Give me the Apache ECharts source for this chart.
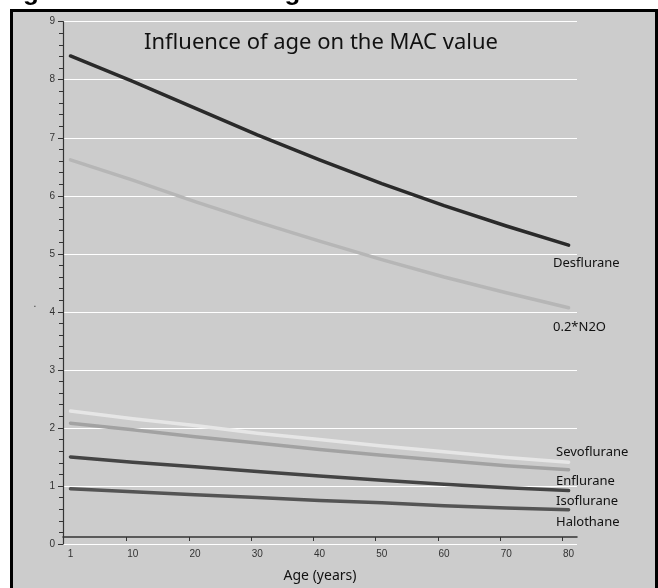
<!DOCTYPE html>
<html>
<head>
<meta charset="utf-8">
<script src="https://cdn.jsdelivr.net/npm/echarts@6/dist/echarts.min.js"></script>
<style>
  html, body { margin: 0; padding: 0; background: #ffffff; }
  #chart { width: 658px; height: 588px; }
</style>
</head>
<body>
<div id="chart"></div>
<script>
// Age tick labels along the x axis (one data point per labelled tick)
const ageLabels = ['1', '10', '20', '30', '40', '50', '60', '70', '80'];

// MAC values per agent at each labelled age
const desflurane  = [8.41, 7.97, 7.51, 7.05, 6.62, 6.21, 5.83, 5.48, 5.15];
const n2oScaled   = [6.62, 6.27, 5.90, 5.55, 5.22, 4.90, 4.60, 4.33, 4.07];
const sevoflurane = [2.29, 2.16, 2.04, 1.91, 1.80, 1.69, 1.59, 1.49, 1.41];
const enflurane   = [2.08, 1.97, 1.85, 1.74, 1.63, 1.53, 1.44, 1.35, 1.28];
const isoflurane  = [1.50, 1.41, 1.33, 1.25, 1.17, 1.10, 1.03, 0.97, 0.92];
const halothane   = [0.95, 0.90, 0.85, 0.80, 0.75, 0.71, 0.66, 0.62, 0.59];

// Y axis range
const yMin = 0, yMax = 9, yStep = 1;

// Each labelled age sits on an evenly spaced slot, 10 units apart
const SLOT = 10;
const slotOf = i => i * SLOT;
const toPoints = vals => vals.map((v, i) => [slotOf(i), v]);

const labelFont = 'Liberation Sans, Arial, sans-serif';
const textFont = 'Noto Sans, Open Sans, sans-serif';

function lineSeries(name, vals, color) {
  return {
    name: name,
    type: 'line',
    data: toPoints(vals),
    showSymbol: false,
    symbol: 'none',
    lineStyle: { color: color, width: 3.5, cap: 'round', join: 'round' },
    z: 3
  };
}

const chart = echarts.init(document.getElementById('chart'), null, { renderer: 'canvas' });

chart.setOption({
  animation: false,
  backgroundColor: '#ffffff',
  grid: { left: 63, right: 81, top: 21.7, bottom: 43, containLabel: false },
  xAxis: {
    type: 'value',
    min: -1.2,
    max: 81.35,
    axisLine: { show: true, onZero: false, lineStyle: { color: '#333333', width: 1.5 } },
    offset: -7,
    axisTick: {
      show: true,
      length: 4,
      inside: false,
      customValues: ageLabels.slice(1).map((_, i) => slotOf(i + 1) - 1),
      lineStyle: { color: '#333333', width: 1 }
    },
    axisLabel: {
      customValues: ageLabels.map((_, i) => slotOf(i)),
      formatter: v => ageLabels[Math.round(v / SLOT)],
      color: '#333333',
      fontFamily: labelFont,
      fontSize: 10,
      margin: 12
    },
    splitLine: { show: false },
    name: 'Age (years)',
    nameLocation: 'middle',
    nameGap: 32,
    nameTextStyle: { fontFamily: textFont, fontSize: 14, color: '#111111' }
  },
  yAxis: {
    type: 'value',
    min: yMin,
    max: yMax,
    interval: yStep,
    axisLine: { show: true, onZero: false, lineStyle: { color: '#333333', width: 1.2 } },
    axisTick: { show: true, length: 5, lineStyle: { color: '#333333', width: 1 } },
    minorTick: { show: true, splitNumber: 5, length: 4, lineStyle: { color: '#333333', width: 1 } },
    axisLabel: { color: '#333333', fontFamily: labelFont, fontSize: 10, margin: 8 },
    splitLine: { show: true, lineStyle: { color: '#ffffff', width: 1.2 } }
  },
  series: [
    lineSeries('Desflurane', desflurane, '#2a2a2a'),
    lineSeries('0.2*N2O', n2oScaled, '#b6b6b6'),
    lineSeries('Sevoflurane', sevoflurane, '#e6e6e6'),
    lineSeries('Enflurane', enflurane, '#a2a2a2'),
    lineSeries('Isoflurane', isoflurane, '#444444'),
    lineSeries('Halothane', halothane, '#545454')
  ],
  graphic: [
    {
      type: 'rect',
      z: -10,
      silent: true,
      shape: { x: 11.5, y: 10.5, width: 645, height: 600 },
      style: { fill: '#cccccc', stroke: '#000000', lineWidth: 3 }
    },
    {
      type: 'text',
      z: -5,
      x: 0,
      y: -7,
      style: {
        text: 'Figure 3: Influence of age',
        font: 'bold 26px Liberation Sans, Arial, sans-serif',
        fill: '#000000',
        align: 'left',
        verticalAlign: 'middle'
      }
    },
    {
      type: 'text',
      x: 321,
      y: 43,
      style: {
        text: 'Influence of age on the MAC value',
        font: '22px Noto Sans, Open Sans, sans-serif',
        fill: '#111111',
        align: 'center',
        verticalAlign: 'middle'
      }
    },
    { type: 'text', x: 35, y: 309, style: { text: '.', font: '10px Liberation Sans, Arial', fill: '#333333', align: 'center', verticalAlign: 'bottom' } },
    { type: 'text', x: 553, y: 263, style: { text: 'Desflurane', font: '13px Noto Sans, sans-serif', fill: '#111111', align: 'left', verticalAlign: 'middle' } },
    { type: 'text', x: 553, y: 327, style: { text: '0.2*N2O', font: '13px Noto Sans, sans-serif', fill: '#111111', align: 'left', verticalAlign: 'middle' } },
    { type: 'text', x: 556, y: 452, style: { text: 'Sevoflurane', font: '13px Noto Sans, sans-serif', fill: '#111111', align: 'left', verticalAlign: 'middle' } },
    { type: 'text', x: 556, y: 481, style: { text: 'Enflurane', font: '13px Noto Sans, sans-serif', fill: '#111111', align: 'left', verticalAlign: 'middle' } },
    { type: 'text', x: 556, y: 501, style: { text: 'Isoflurane', font: '13px Noto Sans, sans-serif', fill: '#111111', align: 'left', verticalAlign: 'middle' } },
    { type: 'text', x: 556, y: 522, style: { text: 'Halothane', font: '13px Noto Sans, sans-serif', fill: '#111111', align: 'left', verticalAlign: 'middle' } }
  ]
});
</script>
</body>
</html>
